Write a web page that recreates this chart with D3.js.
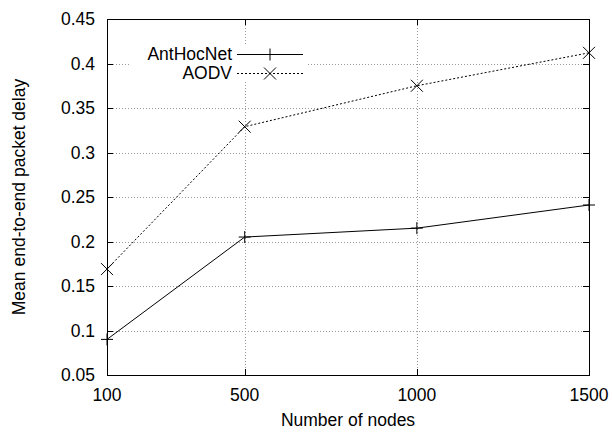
<!DOCTYPE html>
<html>
<head>
<meta charset="utf-8">
<script src="https://cdn.jsdelivr.net/npm/d3@7"></script>
<style>
  body { margin: 0; background: #fff; }
  text { font-family: "Liberation Sans", Arial, sans-serif; fill: #000; }
</style>
</head>
<body>
<div id="chart"></div>
<script>
// data
var nodes = [100, 500, 1000, 1500];
var antHocNet = [0.090, 0.205, 0.215, 0.241];
var aodv = [0.169, 0.329, 0.375, 0.412];
var yTicks = [0.05, 0.1, 0.15, 0.2, 0.25, 0.3, 0.35, 0.4, 0.45];

var drawChart = function () {
    const width = 612, height = 432;
    const left = 107, right = 589, top = 19, bottom = 375;
    const fontSize = 17.5;
    const tickLen = 6;

    var svg = d3.select('#chart').append('svg')
        .attr('width', width)
        .attr('height', height);

    var x = d3.scaleLinear().domain([100, 1500]).range([left, right]);
    var y = d3.scaleLinear().domain([0.05, 0.45]).range([bottom, top]);

    // grid
    var grid = svg.append('g')
        .attr('stroke', '#999')
        .attr('stroke-width', 1)
        .attr('stroke-dasharray', '1,2');
    grid.selectAll('.gy').data(yTicks.slice(1, -1)).enter().append('line')
        .attr('x1', left).attr('x2', right)
        .attr('y1', d => Math.round(y(d)) + 0.5).attr('y2', d => Math.round(y(d)) + 0.5);
    grid.selectAll('.gx').data(nodes.slice(1, -1)).enter().append('line')
        .attr('x1', d => Math.round(x(d)) + 0.5).attr('x2', d => Math.round(x(d)) + 0.5)
        .attr('y1', top).attr('y2', bottom);

    // legend background (opaque, hides grid)
    svg.append('rect')
        .attr('x', 130).attr('y', 45)
        .attr('width', 178).attr('height', 37)
        .attr('fill', '#fff');

    // ticks, inside, mirrored
    var ticks = svg.append('g').attr('stroke', '#000').attr('stroke-width', 1);
    yTicks.forEach(function (v) {
        var yy = Math.round(y(v)) + 0.5;
        ticks.append('line').attr('x1', left).attr('x2', left + tickLen).attr('y1', yy).attr('y2', yy);
        ticks.append('line').attr('x1', right - tickLen).attr('x2', right).attr('y1', yy).attr('y2', yy);
    });
    nodes.forEach(function (v) {
        var xx = Math.round(x(v)) + 0.5;
        ticks.append('line').attr('x1', xx).attr('x2', xx).attr('y1', bottom).attr('y2', bottom - tickLen);
        ticks.append('line').attr('x1', xx).attr('x2', xx).attr('y1', top).attr('y2', top + tickLen);
    });

    // border
    svg.append('rect')
        .attr('x', left + 0.5).attr('y', top + 0.5)
        .attr('width', right - left).attr('height', bottom - top)
        .attr('fill', 'none').attr('stroke', '#000').attr('stroke-width', 1);

    // tick labels
    svg.append('g').selectAll('text').data(yTicks).enter().append('text')
        .attr('x', left - 12)
        .attr('y', d => y(d))
        .attr('dy', '0.36em')
        .attr('text-anchor', 'end')
        .attr('font-size', fontSize)
        .text(d => String(+d.toFixed(2)));
    svg.append('g').selectAll('text').data(nodes).enter().append('text')
        .attr('x', d => x(d))
        .attr('y', bottom + 26)
        .attr('text-anchor', 'middle')
        .attr('font-size', fontSize)
        .text(d => d);

    // axis titles
    svg.append('text')
        .attr('x', (left + right) / 2)
        .attr('y', 426)
        .attr('text-anchor', 'middle')
        .attr('font-size', fontSize)
        .text('Number of nodes');
    svg.append('text')
        .attr('transform', 'translate(25,' + ((top + bottom) / 2) + ') rotate(-90)')
        .attr('text-anchor', 'middle')
        .attr('font-size', fontSize)
        .text('Mean end-to-end packet delay');

    var line = d3.line().x(d => x(d[0])).y(d => y(d[1]));
    var series = [
        { name: 'AntHocNet', values: antHocNet, dash: null, marker: 'plus' },
        { name: 'AODV', values: aodv, dash: '2,2', marker: 'cross' }
    ];

    var drawMarker = function (g, cx, cy, type) {
        var s = 6;
        if (type === 'plus') {
            g.append('path').attr('d', 'M' + (cx - s) + ',' + cy + 'H' + (cx + s) + 'M' + cx + ',' + (cy - s) + 'V' + (cy + s));
        } else {
            g.append('path').attr('d', 'M' + (cx - s) + ',' + (cy - s) + 'L' + (cx + s) + ',' + (cy + s) +
                'M' + (cx - s) + ',' + (cy + s) + 'L' + (cx + s) + ',' + (cy - s));
        }
    };

    series.forEach(function (s, i) {
        var pts = nodes.map((n, j) => [n, s.values[j]]);
        svg.append('path')
            .attr('d', line(pts))
            .attr('fill', 'none')
            .attr('stroke', '#000')
            .attr('stroke-width', 1)
            .attr('stroke-dasharray', s.dash);
        var mg = svg.append('g').attr('stroke', '#000').attr('stroke-width', 1).attr('fill', 'none');
        pts.forEach(p => drawMarker(mg, x(p[0]), y(p[1]), s.marker));

        // legend entry
        var ly = 54 + i * 19;
        svg.append('text')
            .attr('x', 232).attr('y', ly)
            .attr('dy', '0.36em')
            .attr('text-anchor', 'end')
            .attr('font-size', fontSize)
            .text(s.name);
        svg.append('line')
            .attr('x1', 237).attr('x2', 303)
            .attr('y1', ly + 0.5).attr('y2', ly + 0.5)
            .attr('stroke', '#000').attr('stroke-width', 1)
            .attr('stroke-dasharray', s.dash);
        var lg = svg.append('g').attr('stroke', '#000').attr('stroke-width', 1).attr('fill', 'none');
        drawMarker(lg, 270, ly + 0.5, s.marker);
    });
};

window.addEventListener('load', drawChart);
</script>
</body>
</html>
